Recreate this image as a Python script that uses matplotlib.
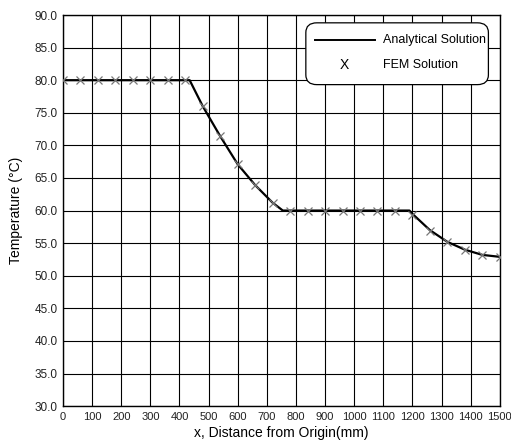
import matplotlib
matplotlib.use("Agg")
import matplotlib.pyplot as plt
from matplotlib.patches import FancyBboxPatch
from matplotlib.lines import Line2D

# Data
fem_x = [0, 60, 120, 180, 240, 300, 360, 420, 480, 540, 600, 660, 720, 780,
         840, 900, 960, 1020, 1080, 1140, 1200, 1260, 1320, 1380, 1440, 1500]
fem_y = [80.0, 80.0, 80.0, 80.0, 80.0, 80.0, 80.0, 80.0, 76.0, 71.4, 67.1, 63.9, 61.2, 60.0,
         60.0, 60.0, 60.0, 60.0, 60.0, 60.0, 59.3, 56.9, 55.2, 54.0, 53.2, 52.9]
ana_x = [0, 435, 480, 540, 600, 660, 720, 755, 1190, 1200, 1260, 1320, 1380, 1440, 1500]
ana_y = [80.0, 80.0, 76.0, 71.4, 67.1, 63.9, 61.2, 60.0, 60.0, 59.5, 57.0, 55.2, 54.0, 53.2, 52.9]
xticks = list(range(0, 1501, 100))
yticks = [30 + 5 * i for i in range(13)]

plt.rcParams['font.family'] = ['Liberation Sans', 'DejaVu Sans']

fig = plt.figure(figsize=(5.11, 4.48), dpi=100)
ax = fig.add_axes([0.1233, 0.0935, 0.8547, 0.873])

ax.plot(ana_x, ana_y, color='black', lw=1.6, zorder=3)
ax.plot(fem_x, fem_y, linestyle='none', marker='x', ms=6, mew=0.9,
        color='#777777', zorder=4)

ax.set_xlim(0, 1500)
ax.set_ylim(30, 90)
ax.set_xticks(xticks)
ax.set_yticks(yticks)
ax.set_xticklabels([str(t) for t in xticks], fontsize=8, color='#222222')
ax.set_yticklabels([f"{t:.1f}" for t in yticks], fontsize=8.5, color='#222222')
ax.tick_params(length=0, pad=4)
ax.grid(True, color='black', lw=0.8)
ax.set_axisbelow(True)
for s in ax.spines.values():
    s.set_color('black')
    s.set_linewidth(1.0)

ax.set_xlabel('x, Distance from Origin(mm)', fontsize=10, labelpad=3)
ax.set_ylabel('Temperature (\u00b0C)', fontsize=10, labelpad=8)

# Legend (manual, rounded box)
box = FancyBboxPatch((0.556, 0.822), 0.418, 0.158,
                     boxstyle="round,pad=0,rounding_size=0.025",
                     transform=ax.transAxes, facecolor='white',
                     edgecolor='black', lw=0.9, zorder=6)
ax.add_patch(box)
ax.add_line(Line2D([0.577, 0.714], [0.935, 0.935], transform=ax.transAxes,
                   color='black', lw=1.4, zorder=7))
ax.text(0.732, 0.935, 'Analytical Solution', transform=ax.transAxes,
        fontsize=9, va='center', ha='left', zorder=7)
ax.text(0.645, 0.872, 'X', transform=ax.transAxes,
        fontsize=10, va='center', ha='center', zorder=7)
ax.text(0.732, 0.872, 'FEM Solution', transform=ax.transAxes,
        fontsize=9, va='center', ha='left', zorder=7)

fig.savefig('out.png', dpi=100)
